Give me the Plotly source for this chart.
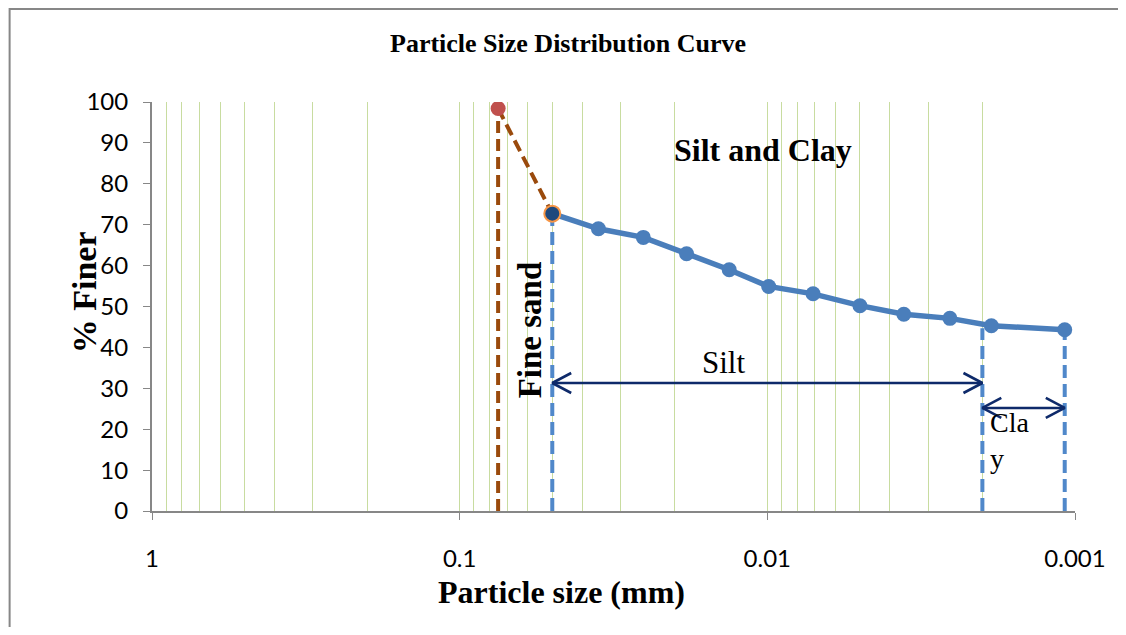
import numpy as np
import plotly.graph_objects as go

# ---------------- data ----------------
sizes_mm = [0.05, 0.0354, 0.0253, 0.0183, 0.0133, 0.0099, 0.0071, 0.0050, 0.0036, 0.00255, 0.00187, 0.00108]
pct_finer = [72.7, 69.0, 66.9, 62.9, 59.0, 54.9, 53.1, 50.2, 48.1, 47.1, 45.3, 44.3]

sieve_sizes = [0.075, 0.05]
sieve_finer = [98.4, 72.7]

fine_sand_x = 0.075
fine_sand_top = 98.4
boundary_x = [0.05, 0.002, 0.00108]
boundary_top = [72.7, 44.7, 44.3]

silt_range = [0.05, 0.002]
silt_arrow_y = 31.3
clay_range = [0.002, 0.00108]
clay_arrow_y = 25.2

x_tickvals = [1, 0.1, 0.01, 0.001]
x_ticktext = ["1", "0.1", "0.01", "0.001"]

# ---------------- layout geometry (screen px; page has 8px body margin) ----------------
OFF = 8
FW, FH = 1110, 619
PX0, PX1, PY0, PY1 = 152, 1079, 102, 511  # plot area on screen
L, R = PX0 - OFF, OFF + FW - PX1
T, B = PY0 - OFF, OFF + FH - PY1
XRANGE = [0, -3]
YRANGE = [0, 100]
PX_PER_DECADE = (PX1 - PX0) / abs(XRANGE[1] - XRANGE[0])
PX_PER_UNIT = (PY1 - PY0) / (YRANGE[1] - YRANGE[0])


def px(x):
    return (x - PX0) / (PX1 - PX0)


def py(y):
    return (PY1 - y) / (PY1 - PY0)


BLUE = "#4A7EBB"
BLUE_DASH = "#5088CA"
BROWN = "#9A4A0C"
RED = "#C0504D"
NAVY = "#0E2A6A"
GRID = "#C8DCA0"
AXIS = "#878787"

fig = go.Figure()

# fine sand vertical (brown dashed)
fig.add_trace(go.Scatter(x=[fine_sand_x, fine_sand_x], y=[0, fine_sand_top], mode="lines",
                         line=dict(color=BROWN, width=4, dash="12px,6px"), hoverinfo="skip", showlegend=False))
# boundary verticals (blue dashed)
for bx, bt in zip(boundary_x, boundary_top):
    fig.add_trace(go.Scatter(x=[bx, bx], y=[0, bt], mode="lines",
                             line=dict(color=BLUE_DASH, width=4, dash="13px,6px"), hoverinfo="skip",
                             showlegend=False))

# double-headed arrows (open chevrons)
HEAD_LEN_PX, HEAD_HALF_PX = 19, 10
dl = HEAD_LEN_PX / PX_PER_DECADE
dh = HEAD_HALF_PX / PX_PER_UNIT
for (xa, xb), ya in [(silt_range, silt_arrow_y), (clay_range, clay_arrow_y)]:
    la, lb = np.log10(xa), np.log10(xb)
    xs = [10 ** (la - dl), xa, 10 ** (la - dl), None, xa, xb, None, 10 ** (lb + dl), xb, 10 ** (lb + dl)]
    ys = [ya + dh, ya, ya - dh, None, ya, ya, None, ya + dh, ya, ya - dh]
    fig.add_trace(go.Scatter(x=xs, y=ys, mode="lines", line=dict(color=NAVY, width=2.6),
                             hoverinfo="skip", showlegend=False, connectgaps=False))

# hydrometer curve
fig.add_trace(go.Scatter(x=sizes_mm, y=pct_finer, mode="lines+markers",
                         line=dict(color=BLUE, width=5.5),
                         marker=dict(size=15, color=BLUE, opacity=1), showlegend=False))

# sieve segment
fig.add_trace(go.Scatter(x=sieve_sizes, y=sieve_finer, mode="lines",
                         line=dict(color=BROWN, width=4, dash="12px,6px"), showlegend=False))
fig.add_trace(go.Scatter(x=sieve_sizes[:1], y=sieve_finer[:1], mode="markers",
                         marker=dict(size=15, color=RED, opacity=1, line=dict(width=0)), showlegend=False))
fig.add_trace(go.Scatter(x=sieve_sizes[1:], y=sieve_finer[1:], mode="markers",
                         marker=dict(size=16, color="#1F497D", opacity=1, line=dict(color="#F79646", width=2)),
                         showlegend=False))

serif = "Liberation Serif, Times New Roman, serif"
sans = "Lato, Calibri, sans-serif"

anns = [
    dict(text="<b>Particle Size Distribution Curve</b>", x=px(570), y=py(43), font=dict(size=26, family=serif)),
    dict(text="<b>Particle size (mm)</b>", x=px(563), y=py(592), font=dict(size=32, family=serif)),
    dict(text="<b>% Finer</b>", x=px(84), y=py(292), font=dict(size=34, family=serif), textangle=-90),
    dict(text="<b>Silt and Clay</b>", x=px(766), y=py(150), font=dict(size=32, family=serif)),
    dict(text="<b>Fine sand</b>", x=px(532), y=py(330), font=dict(size=33, family=serif), textangle=-90),
    dict(text="Silt", x=px(726), y=py(362), font=dict(size=31, family=serif)),
]
for a in anns:
    fig.add_annotation(xref="paper", yref="paper", showarrow=False, xanchor="center", yanchor="middle",
                       font_color="black", **a)
fig.add_annotation(xref="paper", yref="paper", showarrow=False, xanchor="left", yanchor="middle",
                   text="Cla<br>y", align="left", x=px(992), y=py(440),
                   font=dict(size=28, family=serif, color="black"))

# outer border (left + top visible)
fig.add_shape(type="rect", xref="paper", yref="paper", x0=px(9), x1=px(1200), y0=py(700), y1=py(9),
              line=dict(color=AXIS, width=2), layer="below")

fig.update_layout(
    width=FW, height=FH, margin=dict(l=L, r=R, t=T, b=B),
    paper_bgcolor="white", plot_bgcolor="white",
    showlegend=False,
    xaxis=dict(type="log", range=XRANGE, tickvals=x_tickvals, ticktext=x_ticktext,
               showgrid=True, gridcolor=GRID, gridwidth=1,
               minor=dict(dtick="D1", showgrid=True, gridcolor=GRID, gridwidth=1, ticks=""),
               showline=True, linecolor=AXIS, linewidth=2, ticks="outside", ticklen=7, tickcolor=AXIS,
               tickfont=dict(family=sans, size=24, color="black"), ticklabelstandoff=18, zeroline=False),
    yaxis=dict(range=YRANGE, dtick=10, showgrid=False, showline=True, linecolor=AXIS, linewidth=2,
               ticks="outside", ticklen=7, tickcolor=AXIS,
               tickfont=dict(family=sans, size=24, color="black"), ticklabelstandoff=10, zeroline=False),
)

fig.write_html("out.html")
